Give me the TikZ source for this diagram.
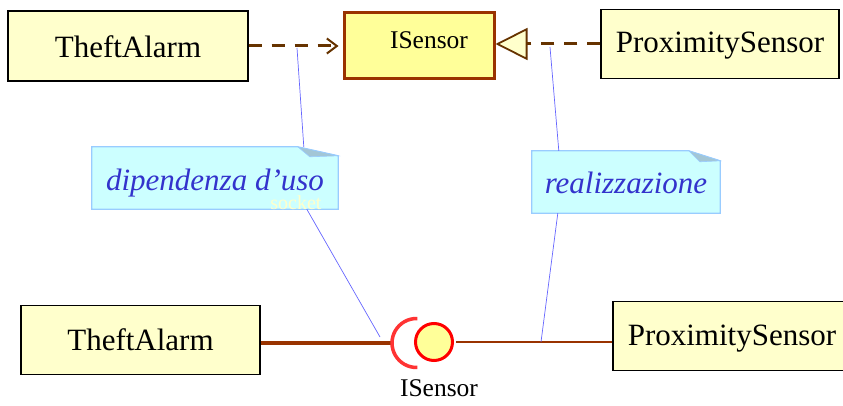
\documentclass[tikz,border=0pt]{standalone}
\usepackage{fontspec}
\setmainfont{Liberation Serif}
\usetikzlibrary{arrows.meta,backgrounds}
\definecolor{boxfill}{HTML}{FFFFCC}
\definecolor{ifill}{HTML}{FFFF99}
\definecolor{ibord}{HTML}{993300}
\definecolor{dbrown}{HTML}{663300}
\definecolor{notefill}{HTML}{CCFFFF}
\definecolor{notebord}{HTML}{99CCFF}
\definecolor{foldfill}{HTML}{A3C6D6}
\definecolor{notetext}{HTML}{3333CC}
\definecolor{anch}{HTML}{6666FF}
\definecolor{sockred}{HTML}{FF3333}
\definecolor{ballred}{HTML}{FF0000}
\definecolor{skcol}{HTML}{FFFFCC}
\newcommand\lowered[2]{\raisebox{-#1}[0pt][0pt]{#2}}
\begin{document}
\begin{tikzpicture}[x=1pt,y=-1pt,
  classbox/.style={draw=black, line width=1.3pt, fill=boxfill, inner sep=0pt,
    font=\fontsize{31}{37}\selectfont},
  ibox/.style={draw=ibord, line width=3pt, fill=ifill, inner sep=0pt,
    font=\fontsize{25.5}{30}\selectfont},
  notebox/.style={inner sep=0pt, text=notetext, font=\fontsize{31}{37}\selectfont\itshape},
  noteshape/.style={fill=notefill, draw=notebord, line width=1.2pt},
  foldshape/.style={fill=foldfill, draw=notebord, line width=0.6pt},
  dep/.style={draw=dbrown, line width=3pt, dash pattern=on 13pt off 10pt},
  anchline/.style={draw=anch, line width=0.7pt},
  lolly/.style={draw=ibord, line width=3.5pt}
]
\useasboundingbox (0,0) rectangle (843,406);

% top row
\node[classbox, minimum width=240pt, minimum height=70pt] (ta1) at (128,46) {\lowered{12pt}{TheftAlarm}};
\node[ibox, minimum width=150pt, minimum height=66pt] (isb) at (419,46) {\hspace*{20pt}\lowered{3pt}{ISensor}};
\node[classbox, minimum width=238pt, minimum height=69pt] (ps1) at (720,44) {\lowered{9pt}{ProximitySensor}};

\draw[dep, shorten >=4pt, -{Straight Barb[length=10pt,width=15pt,line width=2pt]}]
  (ta1.east) -- (isb.west |- ta1.east);
\draw[dep, -{Triangle[length=32pt,width=32pt,fill=boxfill,line width=1.8pt]}]
  (ps1.west) -- (isb.east |- ps1.west);

% notes
\node[notebox, minimum width=246pt, minimum height=62pt] (n1) at (215,178) {\lowered{13pt}{dipendenza d'uso}};
\node[notebox, minimum width=188pt, minimum height=62pt] (n2) at (626,182) {\lowered{12pt}{realizzazione}};
\begin{scope}[on background layer]
  \draw[noteshape] (n1.south west) -- (n1.north west) -- ([xshift=206pt]n1.north west)
    -- ([yshift=-9pt]n1.north east) -- (n1.south east) -- cycle;
  \draw[foldshape] ([xshift=206pt]n1.north west) -- ([yshift=-9pt]n1.north east)
    -- ([xshift=218pt,yshift=-10pt]n1.north west) -- cycle;
  \draw[noteshape] (n2.south west) -- (n2.north west) -- ([xshift=157pt]n2.north west)
    -- ([yshift=-10pt]n2.north east) -- (n2.south east) -- cycle;
  \draw[foldshape] ([xshift=157pt]n2.north west) -- ([yshift=-10pt]n2.north east)
    -- ([xshift=168pt,yshift=-11pt]n2.north west) -- cycle;
\end{scope}
\node[font=\fontsize{20}{24}\selectfont, text=skcol, inner sep=0pt] (sk) at (296,203) {socket};

% bottom row
\node[classbox, minimum width=239pt, minimum height=69pt] (ta2) at (140.5,340) {\lowered{10pt}{TheftAlarm}};
\node[classbox, minimum width=238pt, minimum height=69pt] (ps2) at (732,336) {\lowered{9pt}{ProximitySensor}};
\coordinate (sock) at (392,343);
\node[circle, draw=ballred, line width=3pt, fill=ifill, minimum size=37pt, inner sep=0pt] (ball) at (434,342) {};
\draw[lolly] (ta2.east |- sock) -- (sock);
\draw[sockred, line width=3.5pt] (sock) arc[start angle=180, end angle=88, radius=24.5pt];
\draw[sockred, line width=3.5pt] (sock) arc[start angle=180, end angle=272, radius=24.5pt];
\draw[draw=ibord, line width=2.6pt, shorten <=2pt] (ball.east) -- (ps2.west |- ball.east);
\node[font=\fontsize{25.5}{30}\selectfont, inner sep=0pt] (il) at (439,388) {ISensor};

% anchor lines
\coordinate (u1) at (297,48);
\coordinate (s1) at (380,337);
\coordinate (u2) at (550,47);
\coordinate (s2) at (541,342);
\draw[anchline] (u1) -- ([xshift=212pt]n1.north west);
\draw[anchline] ([xshift=215pt]n1.south west) -- (s1);
\draw[anchline] (u2) -- ([xshift=27pt]n2.north west);
\draw[anchline] ([xshift=26pt]n2.south west) -- (s2);
\end{tikzpicture}
\end{document}
